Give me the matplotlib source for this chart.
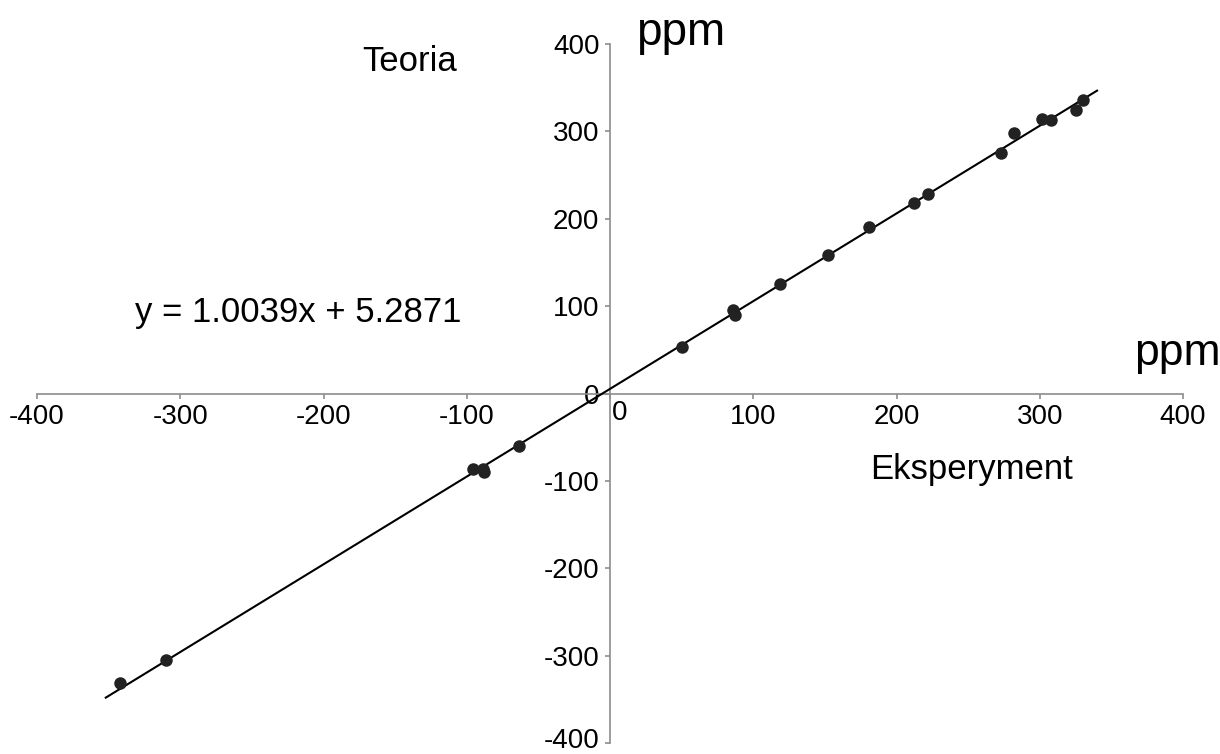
import matplotlib
matplotlib.use("Agg")
import matplotlib.pyplot as plt
import matplotlib.transforms as mtransforms
import numpy as np

plt.rcParams['font.family'] = ['Liberation Sans', 'DejaVu Sans']

# Data (ppm): experiment (x) vs theory (y)
experiment = [-342, -310, -95.5, -89, -88, -63.5, 50, 86, 87, 119, 152.5,
              180.5, 212, 222, 273, 282, 301.5, 308, 325, 330]
theory = [-331, -305, -86, -86, -90, -60, 53, 95, 90, 125.5, 158,
          190, 218, 228, 275, 298, 314.5, 313.5, 325, 335.5]
fit_slope = 1.0039
fit_intercept = 5.2871
fit_range = [-352, 340]
ticks = [-400, -300, -200, -100, 0, 100, 200, 300, 400]
equation_label = "y = 1.0039x + 5.2871"

W, H = 1220, 754
fig = plt.figure(figsize=(W / 100, H / 100), dpi=100)
ax = fig.add_axes([37 / W, 1 - 743 / H, (1183 - 37) / W, (743 - 44) / H])
ax.set_xlim(-400, 400)
ax.set_ylim(-400, 400)

axis_color = '#8c8c8c'
for s in ['top', 'right']:
    ax.spines[s].set_visible(False)
ax.spines['left'].set_position(('data', 0))
ax.spines['bottom'].set_position(('data', 0))
for s in ['left', 'bottom']:
    ax.spines[s].set_color(axis_color)
    ax.spines[s].set_linewidth(1.2)

ax.set_xticks(ticks)
ax.set_yticks(ticks)
ax.set_xticklabels(['' if t == 0 else str(t) for t in ticks])
ax.set_yticklabels([str(t) for t in ticks])
ax.tick_params(axis='both', direction='out', length=3.6, width=1.2,
               color=axis_color, labelsize=20, labelcolor='black', pad=4)

# nudge the lowest y label up so it stays inside the canvas
lowest = ax.get_yticklabels()[0]
lowest.set_transform(lowest.get_transform() +
                     mtransforms.ScaledTranslation(0, 5 / 100, fig.dpi_scale_trans))

xs = np.array(fit_range, dtype=float)
ax.plot(xs, fit_slope * xs + fit_intercept, color='black', lw=1.5, zorder=3)
ax.plot(experiment, theory, 'o', color='#222222', markersize=9,
        markeredgewidth=0, zorder=4, clip_on=False)

def ftext(px, py, s, size, **kw):
    fig.text(px / W, 1 - py / H, s, fontsize=size, **kw)

ftext(619.5, 413, '0', 20, ha='center', va='center')
ftext(362, 71, 'Teoria', 25, ha='left', va='baseline')
ftext(870, 479, 'Eksperyment', 25, ha='left', va='baseline')
ftext(135, 322, equation_label, 25, ha='left', va='baseline')
ftext(636, 45, 'ppm', 33, ha='left', va='baseline')
ftext(1134, 365, 'ppm', 32, ha='left', va='baseline')

fig.savefig('out.png', dpi=100)
